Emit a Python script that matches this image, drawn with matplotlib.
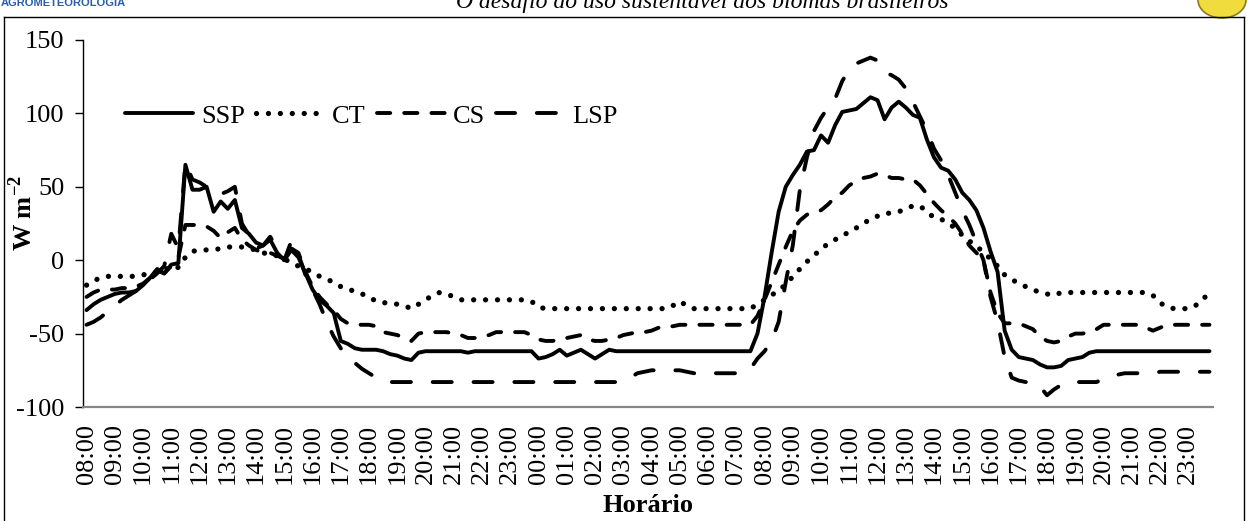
import numpy as np
import matplotlib
matplotlib.use('Agg')
import matplotlib.pyplot as plt
from matplotlib.lines import Line2D
from matplotlib.patches import Ellipse

plt.rcParams['font.family'] = ['Liberation Serif', 'DejaVu Serif']
plt.rcParams['mathtext.fontset'] = 'custom'
plt.rcParams['mathtext.rm'] = 'Liberation Serif'
plt.rcParams['mathtext.bf'] = 'Liberation Serif:bold'
plt.rcParams['axes.unicode_minus'] = False

# rótulos do eixo x (um a cada hora, dados a cada 15 min)
hour_labels = ['08:00', '09:00', '10:00', '11:00', '12:00', '13:00', '14:00', '15:00',
               '16:00', '17:00', '18:00', '19:00', '20:00', '21:00', '22:00', '23:00',
               '00:00', '01:00', '02:00', '03:00', '04:00', '05:00', '06:00', '07:00',
               '08:00', '09:00', '10:00', '11:00', '12:00', '13:00', '14:00', '15:00',
               '16:00', '17:00', '18:00', '19:00', '20:00', '21:00', '22:00', '23:00']

# saldo de radiação (W m-2), valores a cada 15 minutos
ssp = [-34, -30, -27, -25, -23, -22, -22, -21, -17, -12, -6, -9,
       -3, -2, 65, 48, 48, 50, 33, 40, 35, 41, 22, 18,
       12, 10, 14, 5, 0, 7, 2, -9, -20, -27, -31, -36,
       -55, -57, -60, -61, -61, -61, -62, -64, -65, -67, -68, -63,
       -62, -62, -62, -62, -62, -62, -63, -62, -62, -62, -62, -62,
       -62, -62, -62, -62, -67, -66, -64, -61, -65, -63, -61, -64,
       -67, -64, -61, -62, -62, -62, -62, -62, -62, -62, -62, -62,
       -62, -62, -62, -62, -62, -62, -62, -62, -62, -62, -62, -50,
       -25, 5, 33, 50, 58, 65, 74, 75, 85, 80, 92, 101,
       102, 103, 107, 111, 109, 96, 104, 108, 104, 99, 97, 82,
       70, 63, 61, 55, 46, 41, 34, 22, 6, -8, -48, -61,
       -66, -67, -68, -71, -73, -73, -72, -68, -67, -66, -63, -62,
       -62, -62, -62, -62, -62, -62, -62, -62, -62, -62, -62, -62,
       -62, -62, -62, -62]

ct = [-17, -14, -12, -11, -11, -11, -11, -11, -10, -9, -8, -7,
      -4, -5, 2, 6, 7, 7, 7, 8, 9, 9, 9, 8,
      7, 5, 4, 3, 1, -2, -4, -6, -8, -11, -13, -15,
      -18, -20, -21, -23, -25, -28, -29, -29, -30, -31, -33, -30,
      -27, -24, -22, -23, -25, -27, -27, -27, -27, -27, -27, -27,
      -27, -27, -27, -28, -32, -33, -33, -33, -33, -33, -33, -33,
      -33, -33, -33, -33, -33, -33, -33, -33, -33, -33, -33, -31,
      -28, -31, -33, -33, -33, -33, -33, -33, -33, -33, -33, -30,
      -27, -24, -20, -17, -11, -6, -1, 3, 8, 11, 14, 17,
      19, 22, 25, 28, 30, 32, 32, 33, 35, 37, 37, 33,
      29, 28, 25, 22, 17, 13, 10, 5, 1, -4, -10, -13,
      -16, -18, -20, -22, -23, -24, -22, -22, -22, -22, -22, -22,
      -22, -22, -22, -22, -22, -22, -22, -24, -29, -32, -33, -33,
      -33, -31, -27, -22]

cs = [-25, -22, -20, -20, -20, -19, -19, -18, -16, -12, -7, -9,
      -4, 2, 24, 24, 24, 23, 20, 15, 19, 22, 14, 10,
      7, 5, 5, 3, 1, 8, 5, -8, -18, -25, -30, -34,
      -40, -43, -44, -44, -44, -45, -49, -50, -51, -53, -55, -50,
      -49, -49, -49, -49, -50, -51, -53, -53, -52, -51, -49, -49,
      -49, -49, -49, -51, -54, -55, -55, -54, -53, -52, -51, -54,
      -55, -55, -54, -53, -51, -50, -49, -49, -48, -46, -45, -45,
      -44, -44, -44, -44, -44, -44, -44, -44, -44, -44, -44, -38,
      -27, -15, -3, 9, 20, 27, 31, 33, 34, 38, 43, 46,
      51, 54, 56, 57, 59, 58, 56, 56, 55, 55, 51, 45,
      39, 34, 30, 25, 18, 10, 5, 0, -22, -36, -43, -43,
      -43, -45, -47, -52, -55, -56, -55, -52, -50, -50, -49, -47,
      -44, -44, -44, -44, -44, -44, -46, -48, -46, -44, -44, -44,
      -44, -44, -44, -44]

lsp = [-44, -42, -39, -35, -31, -27, -24, -21, -17, -13, -9, -4,
       18, 8, 66, 55, 53, 50, 46, 45, 47, 50, 25, 17,
       8, 10, 16, 8, 0, 13, 4, -10, -20, -30, -42, -52,
       -60, -66, -70, -74, -77, -80, -82, -83, -83, -83, -83, -83,
       -83, -83, -83, -83, -83, -83, -83, -83, -83, -83, -83, -83,
       -83, -83, -83, -83, -83, -83, -83, -83, -83, -83, -83, -83,
       -83, -83, -83, -83, -82, -80, -77, -76, -75, -75, -75, -75,
       -75, -76, -77, -77, -77, -77, -77, -77, -77, -76, -74, -67,
       -62, -55, -42, -15, 10, 48, 70, 88, 97, 104, 110, 122,
       130, 134, 136, 138, 136, 128, 126, 123, 117, 108, 98, 88,
       76, 68, 58, 46, 34, 24, 12, 0, -25, -42, -66, -80,
       -82, -83, -83, -86, -92, -88, -85, -83, -83, -83, -83, -83,
       -81, -79, -78, -77, -77, -77, -77, -77, -76, -76, -76, -76,
       -76, -76, -76, -76]

W, H = 1249, 521
fig = plt.figure(figsize=(W / 100, H / 100), dpi=100)
ax = fig.add_axes([83 / W, 1 - 407 / H, 1130 / W, 367 / H])

x = np.arange(len(ssp))
lw = 2.8
ax.plot(x, ssp, color='black', lw=lw, solid_capstyle='round', solid_joinstyle='round', label='SSP')
ax.plot(x, ct, color='black', lw=3.8, ls=(0, (0.01, 2.25)), dash_capstyle='round', label='CT')
ax.plot(x, cs, color='black', lw=lw, ls=(0, (3.4, 3.6)), dash_capstyle='round', label='CS')
ax.plot(x, lsp, color='black', lw=lw, ls=(0, (4.9, 5.6)), dash_capstyle='round', label='LSP')

ax.set_xlim(-0.5, len(ssp) - 0.5)
ax.set_ylim(-100, 150)
ax.set_yticks([-100, -50, 0, 50, 100, 150])
ax.set_xticks(np.arange(0, len(ssp), 4))
ax.set_xticklabels(hour_labels, rotation=90)

ax.tick_params(axis='x', length=0, pad=12, labelsize=19)
ax.tick_params(axis='y', length=5.5, width=1, pad=8, labelsize=19)

for s in ['top', 'right']:
    ax.spines[s].set_visible(False)
ax.spines['left'].set_linewidth(1.0)
ax.spines['bottom'].set_color('#868686')
ax.spines['bottom'].set_linewidth(1.6)

ax.set_ylabel('W m$^{\\mathbf{-2}}$', fontsize=19, fontweight='bold')
ax.yaxis.set_label_coords(-0.041, 0.53)
ax.set_xlabel('Horário', fontsize=19, fontweight='bold')
ax.xaxis.set_label_coords(0.5, -0.237)

ax.legend(loc='center left', bbox_to_anchor=(0.037, 0.793), ncol=4, frameon=False,
          fontsize=19, borderpad=0, borderaxespad=0, handlelength=2.6,
          handletextpad=0.3, columnspacing=0.4)

# moldura e cabeçalho da página
def px(xp, yp):
    return xp / W, 1 - yp / H

for (x0, y0, x1, y1) in [(4, 17, 1244, 17), (4, 17, 4, 521), (1244, 17, 1244, 521)]:
    a, b = px(x0, y0)
    c, d = px(x1, y1)
    fig.add_artist(Line2D([a, c], [b, d], transform=fig.transFigure, color='black', lw=1.0))

fig.text(*px(702, 8), 'O desafio do uso sustentável dos biomas brasileiros',
         ha='center', va='baseline', fontsize=17, style='italic')
fig.text(*px(1, 6), 'AGROMETEOROLOGIA', ha='left', va='baseline', fontsize=8,
         fontweight='bold', color='#2a5caa',
         family=['Liberation Sans Narrow', 'Liberation Sans', 'DejaVu Sans'])
fig.add_artist(Ellipse(px(1222, 0), 48 / W, 36 / H, transform=fig.transFigure,
                       facecolor='#f0dc3c', edgecolor='#8c7a1e', lw=1.2))

fig.savefig('out.png', dpi=100)
